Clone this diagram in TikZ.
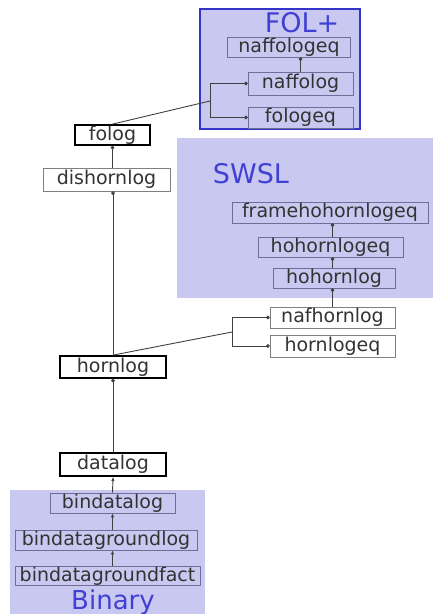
\documentclass[tikz,border=0pt]{standalone}
\usepackage{fontspec}
\setmainfont{DejaVu Sans}
\usetikzlibrary{arrows.meta}
\definecolor{lavender}{RGB}{200,200,240}
\definecolor{regionblue}{RGB}{52,52,200}
\definecolor{titleblue}{RGB}{64,64,212}
\definecolor{inframe}{RGB}{110,110,150}
\begin{document}
\begin{tikzpicture}[x=1pt, y=-1pt,
    box/.style={draw=black!50, fill=white, line width=0.8pt, inner sep=0pt,
        font=\fontsize{19}{21}\selectfont, text=black!80},
    inbox/.style={box, draw=inframe, fill=lavender},
    mainbox/.style={box, draw=black, line width=1.8pt},
    region/.style={fill=lavender, draw=none},
    title/.style={text=titleblue, inner sep=0pt},
    dep/.style={draw=black!75, line width=0.9pt, -{Circle[length=3.5pt]}},
    sub/.style={draw=black!75, line width=0.9pt, -{Latex[length=4pt,width=3.5pt]}},
    link/.style={draw=black!75, line width=0.9pt}]
    \useasboundingbox (0,0) rectangle (439,614);

    % Bereiche
    \fill[region] (177,138) rectangle (433,298);
    \fill[region] (10,490) rectangle (205,614);
    \draw[region, draw=regionblue, line width=2.6pt] (200,9) rectangle (360,129);
    \node[title, font=\fontsize{27}{29}\selectfont] (folplus) at (302,23) {FOL+};
    \node[title, font=\fontsize{27}{29}\selectfont] (swsl) at (251,174) {SWSL};
    \node[title, font=\fontsize{26}{28}\selectfont] (binary) at (113,602) {Binary};

    % FOL+
    \node[inbox, minimum width=123, minimum height=20] (naffologeq) at (289,47) {naffologeq};
    \node[inbox, minimum width=105, minimum height=23] (naffolog) at (300.5,83.5) {naffolog};
    \node[inbox, minimum width=105, minimum height=21] (fologeq) at (300.5,117.5) {fologeq};

    % SWSL
    \node[inbox, minimum width=196, minimum height=21] (framehohornlogeq) at (330,212.5) {framehohornlogeq};
    \node[inbox, minimum width=145, minimum height=20] (hohornlogeq) at (330.5,247) {hohornlogeq};
    \node[inbox, minimum width=122, minimum height=20] (hohornlog) at (334,278) {hohornlog};

    % Hauptspalte
    \node[mainbox, minimum width=75, minimum height=20] (folog) at (112.5,135) {folog};
    \node[box, minimum width=127, minimum height=23] (dishornlog) at (106.5,179.5) {dishornlog};
    \node[mainbox, minimum width=106, minimum height=22] (hornlog) at (113,367) {hornlog};
    \node[mainbox, minimum width=106, minimum height=23] (datalog) at (113,464.5) {datalog};
    \node[box, minimum width=125, minimum height=21] (nafhornlog) at (332.5,317.5) {nafhornlog};
    \node[box, minimum width=125, minimum height=22] (hornlogeq) at (332.5,346) {hornlogeq};

    % Binary
    \node[inbox, minimum width=125, minimum height=20] (bindatalog) at (112.5,503) {bindatalog};
    \node[inbox, minimum width=182, minimum height=20] (bindatagroundlog) at (106,540) {bindatagroundlog};
    \node[inbox, minimum width=185, minimum height=19] (bindatagroundfact) at (107.5,576) {bindatagroundfact};

    % Verbindungen
    \coordinate (folbr) at (210,101);
    \coordinate (hornbr) at (232,332);
    \draw[link] (folog.north) -- (folbr);
    \draw[link] (folbr |- naffolog) -- (folbr |- fologeq);
    \draw[dep] (folbr |- naffolog) -- (naffolog.west);
    \draw[dep] (folbr |- fologeq) -- (fologeq.west);
    \draw[dep] (naffolog.north) -- (naffolog.north |- naffologeq.south);
    \draw[link] (hornlog.north) -- (hornbr);
    \draw[link] (hornbr |- nafhornlog) -- (hornbr |- hornlogeq);
    \draw[dep] (hornbr |- nafhornlog) -- (nafhornlog.west);
    \draw[dep] (hornbr |- hornlogeq) -- (hornlogeq.west);
    \draw[dep] (nafhornlog.north) -- (nafhornlog.north |- hohornlog.south);
    \draw[dep] (hohornlog.north -| nafhornlog.north) -- (hohornlogeq.south -| nafhornlog.north);
    \draw[dep] (hohornlogeq.north -| nafhornlog.north) -- (framehohornlogeq.south -| nafhornlog.north);
    \draw[dep] (dishornlog.north -| folog.north) -- (folog.south);
    \draw[dep] (hornlog.north) -- (hornlog.north |- dishornlog.south);
    \draw[dep] (datalog.north) -- (hornlog.south);
    \draw[sub] (bindatalog.north) -- (datalog.south);
    \draw[sub] (bindatagroundlog.north -| bindatalog.north) -- (bindatalog.south);
    \draw[sub] (bindatagroundfact.north -| bindatalog.north) -- (bindatagroundlog.south -| bindatalog.north);
\end{tikzpicture}
\end{document}
